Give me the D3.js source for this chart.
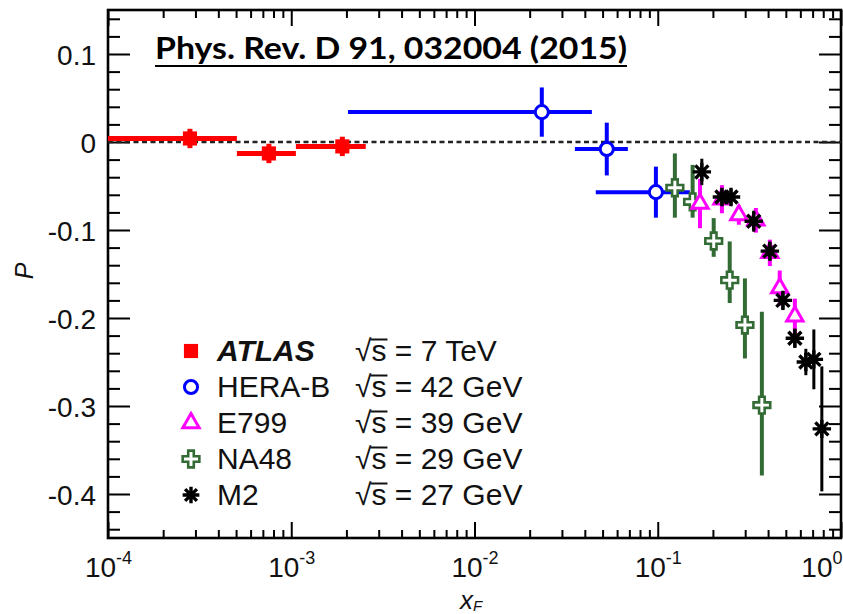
<!DOCTYPE html>
<html>
<head>
<meta charset="utf-8">
<script src="https://cdn.jsdelivr.net/npm/d3@7"></script>
<style>
  html, body { margin: 0; padding: 0; background: #fff; overflow: hidden; }
  svg { display: block; }
</style>
</head>
<body>
<svg id="chart" width="843" height="614"></svg>
<script>
// ---- Lambda polarization P vs x_F ----

// ATLAS (sqrt(s) = 7 TeV): bin centre, bin edges, P, error
const atlasX   = [2.8e-4, 7.55e-4, 1.9e-3];
const atlasXLo = [1e-4, 5.05e-4, 1.06e-3];
const atlasXHi = [5.05e-4, 1.06e-3, 2.55e-3];
const atlasP   = [0.004, -0.013, -0.005];
const atlasErr = [0.011, 0.011, 0.011];

// HERA-B (sqrt(s) = 42 GeV)
const heraX   = [0.0233, 0.0527, 0.0977];
const heraXLo = [2.04e-3, 0.0353, 0.0459];
const heraXHi = [0.0437, 0.0687, 0.1496];
const heraP   = [0.034, -0.008, -0.057];
const heraErr = [0.028, 0.030, 0.029];

// E799 (sqrt(s) = 39 GeV)
const e799X   = [0.170, 0.224, 0.277, 0.343, 0.409, 0.463, 0.560];
const e799P   = [-0.070, -0.065, -0.083, -0.089, -0.126, -0.166, -0.198];
const e799Err = [0.028, 0.016, 0.011, 0.014, 0.015, 0.020, 0.020];

// NA48 (sqrt(s) = 29 GeV), asymmetric errors
const na48X     = [0.124, 0.155, 0.202, 0.247, 0.299, 0.370];
const na48P     = [-0.052, -0.068, -0.1125, -0.157, -0.208, -0.299];
const na48ErrUp = [0.039, 0.042, 0.026, 0.044, 0.053, 0.106];
const na48ErrDn = [0.034, 0.018, 0.018, 0.026, 0.038, 0.080];

// M2 (sqrt(s) = 27 GeV)
const m2X   = [0.174, 0.224, 0.251, 0.334, 0.409, 0.482, 0.560, 0.643, 0.711, 0.786];
const m2P   = [-0.034, -0.0625, -0.0625, -0.090, -0.124, -0.180, -0.223, -0.250, -0.247, -0.326];
const m2Err = [0.015, 0.009, 0.009, 0.012, 0.011, 0.011, 0.011, 0.015, 0.034, 0.071];

// Legend entries
const legendNames    = ["ATLAS", "HERA-B", "E799", "NA48", "M2"];
const legendEnergies = ["7 TeV", "42 GeV", "39 GeV", "29 GeV", "27 GeV"];

// Axis ticks and labels
const xMajorTicks    = [1e-4, 1e-3, 1e-2, 1e-1, 1];
const xTickExponents = ["-4", "-3", "-2", "-1", "0"];
const yMajorTicks    = [-0.4, -0.3, -0.2, -0.1, 0, 0.1];
const yTickLabels    = ["-0.4", "-0.3", "-0.2", "-0.1", "0", "0.1"];
const titleText      = "Phys. Rev. D 91, 032004 (2015)";

// ---- layout ----
const W = 843, H = 614;
const plot = { left: 108, right: 841, top: 10, bottom: 538 };
const sansFont = "'Liberation Sans', Arial, Helvetica, sans-serif";

const svg = d3.select("#chart");

const x = d3.scaleLog().domain([1e-4, 1]).range([plot.left, plot.right]);
const y = d3.scaleLinear().domain([-0.45, 0.15]).range([plot.bottom, plot.top]);

// minor ticks: 2..9 within each decade, every 0.02 in P
const xMinorTicks = [];
for (let e = -4; e < 0; e++) for (let m = 2; m <= 9; m++) xMinorTicks.push(m * Math.pow(10, e));
const yMinorTicks = d3.range(-22, 8).map(k => k * 0.02).filter(v => Math.abs(Math.round(v * 10) - v * 10) > 1e-6);

// ---- symbols ----
const symbolAsterisk = {
  draw(ctx, size) {
    const r = Math.sqrt(size) / 2;
    const d = r * Math.SQRT1_2;
    ctx.moveTo(0, -r); ctx.lineTo(0, r);
    ctx.moveTo(-r, 0); ctx.lineTo(r, 0);
    ctx.moveTo(-d, -d); ctx.lineTo(d, d);
    ctx.moveTo(-d, d); ctx.lineTo(d, -d);
  }
};

const styles = {
  ATLAS:   { color: "#ff0000", type: d3.symbolSquare,   size: 200, fill: "#ff0000", sw: 0,   lw: 5 },
  "HERA-B":{ color: "#0000ff", type: d3.symbolCircle,   size: 135, fill: "#ffffff", sw: 3,   lw: 4 },
  E799:    { color: "#ff00ff", type: d3.symbolTriangle, size: 115, fill: "#ffffff", sw: 3,   lw: 4 },
  NA48:    { color: "#336b35", type: d3.symbolCross,    size: 155, fill: "#ffffff", sw: 2.6, lw: 4 },
  M2:      { color: "#000000", type: symbolAsterisk,    size: 340, fill: "none",    sw: 3.4, lw: 3 }
};

// ---- frame axes ----
function styleAxis(g, width) {
  g.select(".domain").remove();
  g.selectAll(".tick line").attr("stroke", "#000").attr("stroke-width", width);
}

// bottom, major with labels
const gxB = svg.append("g").attr("transform", `translate(0,${plot.bottom})`)
  .call(d3.axisBottom(x).tickValues(xMajorTicks).tickSizeInner(-16).tickSizeOuter(0).tickPadding(0));
styleAxis(gxB, 2);
gxB.selectAll(".tick text")
  .attr("y", 39).attr("dy", null)
  .attr("font-family", sansFont).attr("font-size", 28).attr("fill", "#111")
  .text(null)
  .each(function (d, i) {
    const t = d3.select(this);
    t.append("tspan").text("10");
    t.append("tspan").attr("dy", -13).attr("font-size", 18).text(xTickExponents[i]);
    // keep the last label inside the page at the right border
    if (i === xMajorTicks.length - 1) t.attr("text-anchor", "end").attr("x", W - plot.right - 1);
  });
// bottom, minor
const gxBm = svg.append("g").attr("transform", `translate(0,${plot.bottom})`)
  .call(d3.axisBottom(x).tickValues(xMinorTicks).tickSizeInner(-8).tickSizeOuter(0).tickFormat(""));
styleAxis(gxBm, 2);
// top, major + minor
const gxT = svg.append("g").attr("transform", `translate(0,${plot.top})`)
  .call(d3.axisTop(x).tickValues(xMajorTicks).tickSizeInner(-16).tickSizeOuter(0).tickFormat(""));
styleAxis(gxT, 2);
const gxTm = svg.append("g").attr("transform", `translate(0,${plot.top})`)
  .call(d3.axisTop(x).tickValues(xMinorTicks).tickSizeInner(-8).tickSizeOuter(0).tickFormat(""));
styleAxis(gxTm, 2);

// left, major with labels
const gyL = svg.append("g").attr("transform", `translate(${plot.left},0)`)
  .call(d3.axisLeft(y).tickValues(yMajorTicks).tickSizeInner(-22).tickSizeOuter(0).tickPadding(12)
    .tickFormat((d, i) => yTickLabels[i]));
styleAxis(gyL, 2);
gyL.selectAll(".tick text")
  .attr("font-family", sansFont).attr("font-size", 28).attr("fill", "#111").attr("dy", "0.36em");
const gyLm = svg.append("g").attr("transform", `translate(${plot.left},0)`)
  .call(d3.axisLeft(y).tickValues(yMinorTicks).tickSizeInner(-12).tickSizeOuter(0).tickFormat(""));
styleAxis(gyLm, 2);
// right, major + minor
const gyR = svg.append("g").attr("transform", `translate(${plot.right},0)`)
  .call(d3.axisRight(y).tickValues(yMajorTicks).tickSizeInner(-22).tickSizeOuter(0).tickFormat(""));
styleAxis(gyR, 2);
const gyRm = svg.append("g").attr("transform", `translate(${plot.right},0)`)
  .call(d3.axisRight(y).tickValues(yMinorTicks).tickSizeInner(-12).tickSizeOuter(0).tickFormat(""));
styleAxis(gyRm, 2);

// frame
svg.append("rect")
  .attr("x", plot.left).attr("y", plot.top)
  .attr("width", plot.right - plot.left).attr("height", plot.bottom - plot.top)
  .attr("fill", "none").attr("stroke", "#000").attr("stroke-width", 2.6);

// zero line
svg.append("line")
  .attr("x1", x(1e-4)).attr("x2", x(1))
  .attr("y1", y(0)).attr("y2", y(0))
  .attr("stroke", "#222").attr("stroke-width", 2.4).attr("stroke-dasharray", "5,3.5");

// ---- data ----
svg.append("clipPath").attr("id", "plotClip")
  .append("rect")
  .attr("x", plot.left).attr("y", plot.top)
  .attr("width", plot.right - plot.left).attr("height", plot.bottom - plot.top);

const dataG = svg.append("g").attr("clip-path", "url(#plotClip)");

function drawSeries(name, pts) {
  const s = styles[name];
  const g = dataG.append("g").attr("class", "series");
  // horizontal bin bars
  g.selectAll("line.xerr").data(pts.filter(p => p.xlo != null)).join("line")
    .attr("class", "xerr")
    .attr("x1", p => x(p.xlo)).attr("x2", p => x(p.xhi))
    .attr("y1", p => y(p.p)).attr("y2", p => y(p.p))
    .attr("stroke", s.color).attr("stroke-width", s.lw);
  // vertical error bars
  g.selectAll("line.yerr").data(pts).join("line")
    .attr("class", "yerr")
    .attr("x1", p => x(p.x)).attr("x2", p => x(p.x))
    .attr("y1", p => y(p.p + p.up)).attr("y2", p => y(p.p - p.dn))
    .attr("stroke", s.color).attr("stroke-width", s.lw);
  // markers
  g.selectAll("path.mark").data(pts).join("path")
    .attr("class", "mark")
    .attr("transform", p => `translate(${x(p.x)},${y(p.p)})`)
    .attr("d", d3.symbol(s.type, s.size))
    .attr("fill", s.fill)
    .attr("stroke", s.sw ? s.color : "none")
    .attr("stroke-width", s.sw);
}

drawSeries("ATLAS", atlasX.map((v, i) => ({ x: v, p: atlasP[i], up: atlasErr[i], dn: atlasErr[i], xlo: atlasXLo[i], xhi: atlasXHi[i] })));
drawSeries("HERA-B", heraX.map((v, i) => ({ x: v, p: heraP[i], up: heraErr[i], dn: heraErr[i], xlo: heraXLo[i], xhi: heraXHi[i] })));
drawSeries("NA48", na48X.map((v, i) => ({ x: v, p: na48P[i], up: na48ErrUp[i], dn: na48ErrDn[i] })));
drawSeries("E799", e799X.map((v, i) => ({ x: v, p: e799P[i], up: e799Err[i], dn: e799Err[i] })));
drawSeries("M2", m2X.map((v, i) => ({ x: v, p: m2P[i], up: m2Err[i], dn: m2Err[i] })));

// ---- legend ----
const legend = svg.append("g").attr("class", "legend");
const rowBase = 361, rowStep = 36, fsLeg = 30;
legendNames.forEach((name, i) => {
  const s = styles[name];
  const base = rowBase + i * rowStep;
  legend.append("path")
    .attr("transform", `translate(191,${base - 10})`)
    .attr("d", d3.symbol(s.type, name === "M2" ? 280 : s.size))
    .attr("fill", s.fill)
    .attr("stroke", s.sw ? s.color : "none")
    .attr("stroke-width", s.sw);
  legend.append("text")
    .attr("x", 217).attr("y", base)
    .attr("font-family", sansFont).attr("font-size", fsLeg)
    .attr("font-weight", name === "ATLAS" ? "bold" : "normal")
    .attr("font-style", name === "ATLAS" ? "italic" : "normal")
    .attr("fill", "#111")
    .text(name);
  const t = legend.append("text")
    .attr("x", 355).attr("y", base)
    .attr("font-family", sansFont).attr("font-size", fsLeg).attr("fill", "#111");
  t.append("tspan").text("\u221A");
  t.append("tspan").text("s");
  t.append("tspan").text(" = " + legendEnergies[i]);
  // vinculum over the s
  const node = t.node();
  const x0 = node.getStartPositionOfChar(1).x;
  const x1 = node.getEndPositionOfChar(1).x;
  legend.append("line")
    .attr("x1", x0 - 1).attr("x2", x1 + 1)
    .attr("y1", base - 21.5).attr("y2", base - 21.5)
    .attr("stroke", "#111").attr("stroke-width", 2);
});

// ---- axis titles ----
const xt = svg.append("text")
  .attr("x", 460).attr("y", 609)
  .attr("font-family", sansFont).attr("font-size", 26).attr("font-style", "italic").attr("fill", "#111");
xt.append("tspan").text("x");
xt.append("tspan").attr("dy", 1.5).attr("font-size", 15).text("F");

svg.append("text")
  .attr("transform", "translate(33,271) rotate(-90)")
  .attr("text-anchor", "middle")
  .attr("font-family", sansFont).attr("font-size", 25).attr("font-style", "italic").attr("fill", "#111")
  .text("P");

// ---- reference title ----
const title = svg.append("text")
  .attr("x", 155).attr("y", 59)
  .attr("font-family", "Lato, 'Open Sans', sans-serif").attr("font-weight", "bold").attr("font-size", 31)
  .attr("textLength", 472).attr("lengthAdjust", "spacingAndGlyphs")
  .attr("fill", "#000")
  .text(titleText);
svg.append("line")
  .attr("x1", 155).attr("x2", 155 + 472)
  .attr("y1", 66).attr("y2", 66)
  .attr("stroke", "#000").attr("stroke-width", 2.2);
</script>
</body>
</html>
